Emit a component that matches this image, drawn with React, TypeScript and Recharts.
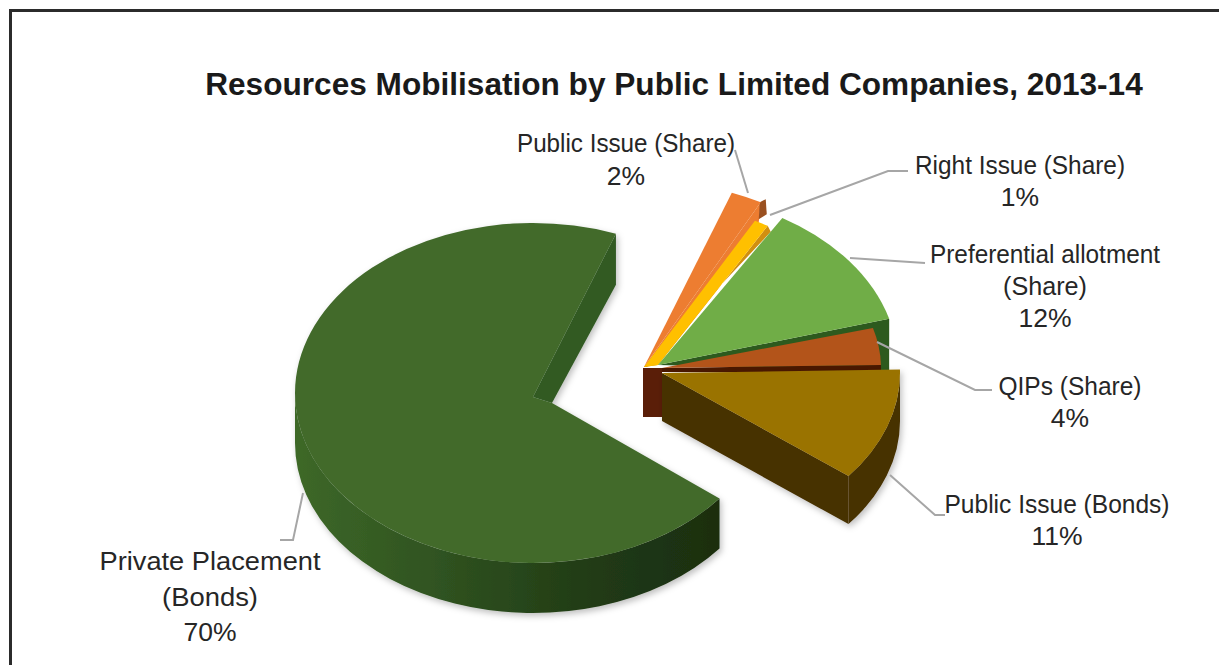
import React from "react";
import { PieChart, Pie, Cell } from "recharts";

const categories = [
  "Public Issue (Share)",
  "Right Issue (Share)",
  "Preferential allotment (Share)",
  "QIPs (Share)",
  "Public Issue (Bonds)",
  "Private Placement (Bonds)",
];
const shares = [2, 1, 12, 4, 11, 70];
const chartTitle = "Resources Mobilisation by Public Limited Companies, 2013-14";

const tableData = categories.map((name, i) => ({ name, value: shares[i] }));

const PIE_CX = 600;
const PIE_CY = 390;
const BASE_R = 240;

// 3D look per slice, offsets are relative to the pie's centre (explosion, ellipse radii, extrusion)
const look: any[] = [
  { c: [44, -23], rx: 252, ry: 186, top: "#ed7d31", face: "#ed7d31", fd: [-2, 20], fd2: [3, 0], depth: 0, cap: { pts: [[-1, 0], [5, -3], [6, 12], [-2, 17]], fill: "#9a5020" } },
  { c: [47, -23], apex: [44, -23], hinge: [58, -25], rx: 233, ry: 165, top: "#ffc000", face: "#d08f10", fd: [3, 6], fd2: [0, 0], depth: 0 },
  { c: [58, -25], rx: 240, ry: 172, top: "#70ad47", face: "#2d5a1e", fd: [0, 52], fd2: [0, 0], depth: 0 },
  { c: [62, -22], rx: 219, ry: 149, top: "#b3541a", face: "#4a1800", fd: [0, 8], fd2: [0, 4], depth: 0, hub: { w: 19, h: 49, fill: "#5a1e08" } },
  { c: [62, -17], rx: 238, ry: 166, top: "#9a7300", face: "#463000", side: "#463000", fd: [0, 48], fd2: [0, 48], depth: 48 },
  { c: [-67, 3], apex: [-48, 13], hinge: [-67, 7], rx: 238, ry: 170, top: "#426b2c", face: "#305a23", side: "url(#bigSide)", fd: [0, 51], fd2: [0, 0], depth: 50 },
];

const labelLook = [
  { x: 626, ys: [152, 185], lines: ["Public Issue (Share)"], widths: [218], path: "M735,150 L748,193" },
  { x: 1020, ys: [174, 206], lines: ["Right Issue (Share)"], widths: [210], path: "M770,215 L888,171 L908,171" },
  { x: 1045, ys: [263, 295, 327], lines: ["Preferential allotment", "(Share)"], widths: [230, 84], path: "M850,258 L925,263" },
  { x: 1070, ys: [395, 427], lines: ["QIPs (Share)"], widths: [143], path: "M877,342 L975,390 L992,390" },
  { x: 1057, ys: [513, 545], lines: ["Public Issue (Bonds)"], widths: [225], path: "M890,475 L935,515 L945,515" },
  { x: 210, ys: [570, 606, 641], lines: ["Private Placement", "(Bonds)"], widths: [221, 96], path: "M303,493 L293,540 L280,540" },
];

const rad = (d: number) => (d * Math.PI) / 180;

function Slice3D(props: any) {
  const { cx, cy, startAngle, endAngle, index } = props;
  const k = look[index];
  const ex = cx + k.c[0];
  const ey = cy + k.c[1];
  const ax = k.apex ? cx + k.apex[0] : ex;
  const ay = k.apex ? cy + k.apex[1] : ey;
  const hx = k.hinge ? cx + k.hinge[0] : ax;
  const hy = k.hinge ? cy + k.hinge[1] : ay;
  const t1 = 90 - startAngle;
  const t2 = 90 - endAngle;
  const pt = (t: number, dy = 0) => [ex + k.rx * Math.sin(rad(t)), ey - k.ry * Math.cos(rad(t)) + dy];
  const [sx, sy] = pt(t1);
  const [qx, qy] = pt(t2);
  const large = t2 - t1 > 180 ? 1 : 0;
  const top = `M${ax},${ay} L${sx},${sy} A${k.rx},${k.ry} 0 ${large} 1 ${qx},${qy} L${hx},${hy} Z`;
  const face = `M${hx},${hy} L${qx},${qy} L${qx + k.fd[0]},${qy + k.fd[1]} L${ax + k.fd2[0]},${ay + k.fd2[1]} Z`;
  let side = null;
  if (k.depth) {
    const a = Math.max(t1, 90);
    const b = Math.min(t2, 270);
    const [p1x, p1y] = pt(a);
    const [p2x, p2y] = pt(b);
    const d = `M${p1x},${p1y} A${k.rx},${k.ry} 0 0 1 ${p2x},${p2y} L${p2x},${p2y + k.depth} A${k.rx},${k.ry} 0 0 0 ${p1x},${p1y + k.depth} Z`;
    side = <path d={d} fill={k.side} />;
  }
  return (
    <g filter={k.depth ? "url(#softShadow)" : undefined}>
      {k.hub && <rect x={ax - k.hub.w} y={ay} width={k.hub.w} height={k.hub.h} fill={k.hub.fill} />}
      {side}
      <path d={face} fill={k.face} />
      {k.cap && (
        <polygon points={k.cap.pts.map((p: number[]) => `${qx + p[0]},${qy + p[1]}`).join(" ")} fill={k.cap.fill} />
      )}
      <path d={top} fill={k.top} />
    </g>
  );
}

function SliceLabel(props: any) {
  const { index, value } = props;
  const l = labelLook[index];
  const rows = [...l.lines, `${value}%`];
  return (
    <g>
      <path d={l.path} fill="none" stroke="#a6a6a6" strokeWidth={2} />
      {rows.map((t: string, i: number) => (
        <text
          key={i}
          x={l.x}
          y={l.ys[i]}
          textAnchor="middle"
          fontFamily="Liberation Sans"
          fontSize={26.5}
          fill="#262626"
          textLength={l.widths[i]}
          lengthAdjust={l.widths[i] ? "spacingAndGlyphs" : undefined}
        >
          {t}
        </text>
      ))}
    </g>
  );
}

export default function App() {
  return (
    <div style={{ position: "absolute", left: 0, top: 0, width: 1219, height: 665, overflow: "hidden", background: "#fff" }}>
      <div style={{ position: "absolute", left: 8.5, top: 9, width: 1300, height: 700, border: "3px solid #2b2b2b", boxSizing: "border-box" }} />
      <div style={{ position: "absolute", left: 0, top: 0 }}>
        <PieChart width={1219} height={665} margin={{ top: 0, right: 0, bottom: 0, left: 0 }}>
          <defs>
            <linearGradient id="bigSide" x1="0" y1="0" x2="1" y2="0">
              <stop offset="0%" stopColor="#3d6828" />
              <stop offset="35%" stopColor="#2f5220" />
              <stop offset="70%" stopColor="#213b15" />
              <stop offset="100%" stopColor="#1a2e10" />
            </linearGradient>
            <filter id="softShadow" x="-10%" y="-10%" width="120%" height="120%">
              <feDropShadow dx="2" dy="3" stdDeviation="3" floodColor="#000" floodOpacity="0.25" />
            </filter>
          </defs>
          <text x={674} y={95} textAnchor="middle" fontFamily="Liberation Sans" fontWeight="bold" fontSize={31.6} fill="#1a1a1a">
            {chartTitle}
          </text>
          <Pie
            data={tableData}
            dataKey="value"
            nameKey="name"
            cx={PIE_CX}
            cy={PIE_CY}
            outerRadius={BASE_R}
            startAngle={69.6}
            endAngle={-290.4}
            stroke="none"
            isAnimationActive={false}
            shape={Slice3D}
            label={SliceLabel}
            labelLine={false}
          >
            {tableData.map((d) => (
              <Cell key={d.name} />
            ))}
          </Pie>
        </PieChart>
      </div>
    </div>
  );
}
